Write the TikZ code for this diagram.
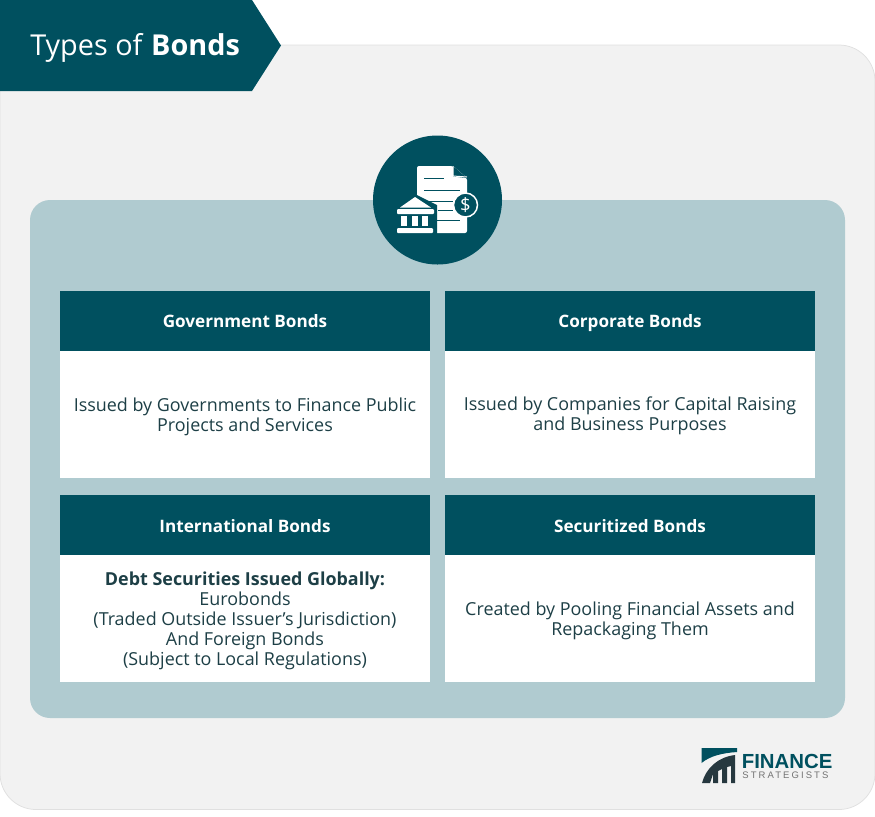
\documentclass[tikz,border=0pt]{standalone}
\usepackage{fontspec}
\setmainfont{Open Sans}
\newfontfamily\stratfont[LetterSpace=22]{Liberation Sans}
\newfontfamily\finfont{Liberation Sans}
\definecolor{bondteal}{HTML}{00505F}
\definecolor{bondpanel}{HTML}{B0CBD0}
\definecolor{bondback}{HTML}{F2F2F2}
\definecolor{bondtext}{HTML}{1D3F46}
\definecolor{bonddark}{HTML}{26383F}
\tikzset{
	headtext/.style={text=white, font=\fontsize{9.75}{11.3}\selectfont\bfseries, align=center},
	bodytext/.style={text=bondtext, font=\fontsize{10.2}{11.34}\selectfont, align=center},
	headbar/.style={fill=bondteal, draw=none},
	bodybar/.style={fill=white, draw=none},
}

\begin{document}
\begin{tikzpicture}[x=0.02cm, y=-0.02cm]
		%%%%% START %%%%%
		\useasboundingbox (0, 0) rectangle (875, 816);
		
		\draw[fill=bondback, draw=black!12, line width=0.15mm, rounded corners=0.72cm] (0, 45) rectangle (875, 809.5);
		\fill[fill=bondpanel, rounded corners=0.4cm] (30, 200) rectangle (845, 718);
		
		\fill[bondteal] (0, 0) -- (252, 0) -- (281, 45.5) -- (252, 91) -- (0, 91) -- cycle;
		\node[text=white, anchor=west, inner sep=0, font=\fontsize{16.4}{19}\selectfont] (title) at (30, 47.5) {Types of \textbf{Bonds}};
		
		\fill[bondteal] (437.5, 200) circle[radius=64.5];
		
		% document
		\fill[white, rounded corners=0.04cm] (417, 166) -- (453, 166) -- (467, 178) -- (467, 233) -- (417, 233) -- cycle;
		\fill[bondteal] (453, 166) -- (467, 178) -- (453, 176.5) -- cycle;
		\draw[white, line width=0.2mm] (453, 166) -- (453, 176) -- (467, 177);
		\draw[bondteal, line width=0.2mm] (424, 178) -- (444, 178);
		\draw[bondteal, line width=0.2mm] (424, 190) -- (460, 190);
		\draw[bondteal, line width=0.2mm] (423, 201) -- (453, 201);
		\draw[bondteal, line width=0.2mm] (438, 210) -- (453, 210);
		\draw[bondteal, line width=0.2mm] (434, 220) -- (460, 220);
		
		% coin
		\draw[fill=bondteal, draw=white, line width=0.3mm] (465.5, 205) circle[radius=12];
		\node[text=white, inner sep=0, font=\fontsize{10.5}{10.5}\selectfont] (coin) at (465.5, 205) {\$};
		
		% bank
		\fill[bondteal] (394, 205) -- (415, 194) -- (437, 205) -- (437, 235) -- (394, 235) -- cycle;
		\fill[white] (415, 197) -- (431, 207.5) -- (400, 207.5) -- cycle;
		\fill[white, rounded corners=0.02cm] (397, 209) rectangle (434, 214);
		\fill[white] (401, 216) rectangle (407, 226);
		\fill[white] (412, 216) rectangle (418, 226);
		\fill[white] (422, 216) rectangle (428, 226);
		\fill[white, rounded corners=0.02cm] (397, 228) rectangle (433, 233);
		
		% cards
		\fill[headbar] (60, 291) rectangle (430, 351);
		\fill[bodybar] (60, 351) rectangle (430, 478);
		\fill[headbar] (445, 291) rectangle (815, 351);
		\fill[bodybar] (445, 351) rectangle (815, 478);
		\fill[headbar] (60, 495) rectangle (430, 555);
		\fill[bodybar] (60, 555) rectangle (430, 682);
		\fill[headbar] (445, 495) rectangle (815, 555);
		\fill[bodybar] (445, 555) rectangle (815, 682);
		
		\node[headtext] (govhead) at (245, 321) {Government Bonds};
		\node[headtext] (corphead) at (630, 323.5) {Corporate Bonds};
		\node[headtext] (inthead) at (245, 526) {International Bonds};
		\node[headtext] (sechead) at (630, 526) {Securitized Bonds};
		
		\node[bodytext] (govbody) at (245, 417) {Issued by Governments to Finance Public\\Projects and Services};
		\node[bodytext] (corpbody) at (630, 416) {Issued by Companies for Capital Raising\\and Business Purposes};
		\node[bodytext] (intbody) at (245, 621) {\textbf{Debt Securities Issued Globally:}\\Eurobonds\\(Traded Outside Issuer’s Jurisdiction)\\And Foreign Bonds\\(Subject to Local Regulations)};
		\node[bodytext] (secbody) at (630, 621) {Created by Pooling Financial Assets and\\Repackaging Them};
		
		% logo
		\fill[bondteal] (701.5, 748) -- (737, 748) -- (737, 752) .. controls (722, 753) and (710, 756) .. (701.5, 763) -- cycle;
		\fill[bonddark] (702, 783) .. controls (706, 768) and (718, 757) .. (735, 755) -- (735, 783) -- (731, 783) -- (731, 766) -- (727, 767) -- (727, 783) -- (722, 783) -- (722, 769) -- (718, 771) -- (718, 783) -- (713, 783) -- (713, 774) -- (710, 783) -- cycle;
		\node[text=bondteal, anchor=base west, inner sep=0, font=\finfont\fontsize{11.6}{12}\selectfont\bfseries] (finance) at (741.5, 768.5) {FINANCE};
		\node[text=black!55, anchor=base west, inner sep=0, font=\stratfont\fontsize{5.4}{6}\selectfont] (strategists) at (742, 778) {STRATEGISTS};
		%%%%% END %%%%%
	\end{tikzpicture}
\end{document}
